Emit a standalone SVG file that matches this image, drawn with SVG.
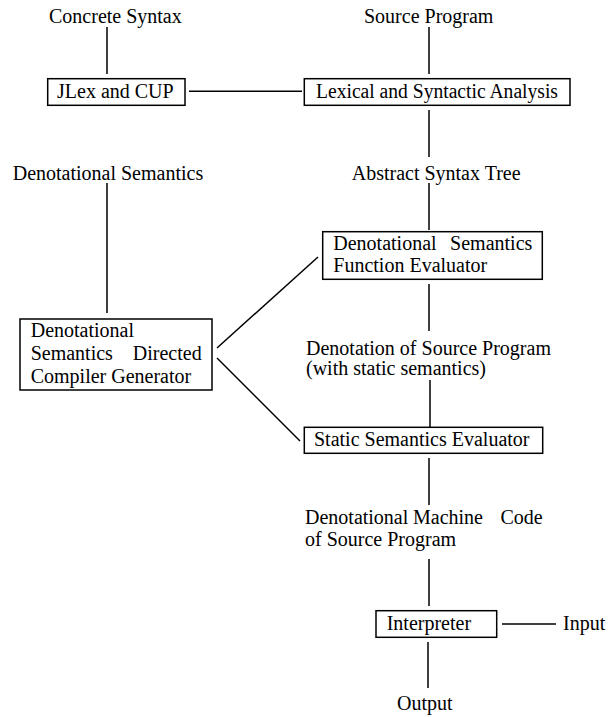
<svg xmlns="http://www.w3.org/2000/svg" width="609" height="717" viewBox="0 0 609 717">
<style>
text{font-family:"Liberation Serif","Times New Roman",serif;font-size:20px;fill:#000}
.box{fill:#fff;stroke:#000;stroke-width:1.5}
.ln{stroke:#000;stroke-width:1.5;fill:none}
</style>
<rect width="609" height="717" fill="#fff"/>
<g id="connectors">
<line class="ln" x1="107" y1="27" x2="107" y2="74"/>
<line class="ln" x1="429" y1="27" x2="429" y2="74"/>
<line class="ln" x1="189" y1="91.3" x2="302" y2="91.3"/>
<line class="ln" x1="429" y1="110" x2="429" y2="157"/>
<line class="ln" x1="107" y1="183" x2="107" y2="313"/>
<line class="ln" x1="429" y1="183" x2="429" y2="230"/>
<line class="ln" x1="217" y1="348" x2="318" y2="257"/>
<line class="ln" x1="217" y1="358" x2="300" y2="441"/>
<line class="ln" x1="429" y1="284" x2="429" y2="331"/>
<line class="ln" x1="430" y1="380" x2="430" y2="427"/>
<line class="ln" x1="429" y1="458" x2="429" y2="505"/>
<line class="ln" x1="429" y1="559" x2="429" y2="606"/>
<line class="ln" x1="502" y1="624" x2="556" y2="624"/>
<line class="ln" x1="428" y1="642" x2="428" y2="688"/>
</g>
<g id="concrete-syntax"><text x="49" y="23">Concrete Syntax</text></g>
<g id="source-program"><text x="364" y="23">Source Program</text></g>
<g id="jlex-cup">
<rect class="box" x="47.7" y="78.7" width="137.3" height="26.6"/>
<text x="57" y="98.3">JLex and CUP</text>
</g>
<g id="lexical">
<rect class="box" x="304.3" y="78.7" width="265.7" height="26.6"/>
<text x="316" y="98.3" textLength="242" lengthAdjust="spacingAndGlyphs">Lexical and Syntactic Analysis</text>
</g>
<g id="denotational-semantics"><text x="12.7" y="180">Denotational Semantics</text></g>
<g id="ast"><text x="351.7" y="180">Abstract Syntax Tree</text></g>
<g id="dsfe">
<rect class="box" x="322.7" y="231.7" width="219.6" height="47.6"/>
<text x="333.3" y="250">Denotational<tspan x="532.3" text-anchor="end">Semantics</tspan></text>
<text x="333.3" y="271.7">Function Evaluator</text>
</g>
<g id="dsdcg">
<rect class="box" x="20" y="319" width="192" height="71"/>
<text x="30.7" y="337.3">Denotational</text>
<text x="30.7" y="360">Semantics<tspan x="201.7" text-anchor="end">Directed</tspan></text>
<text x="30.7" y="382.7">Compiler Generator</text>
</g>
<g id="denotation">
<text x="306" y="355">Denotation of Source Program</text>
<text x="306" y="375">(with static semantics)</text>
</g>
<g id="sse">
<rect class="box" x="304.3" y="427.3" width="238.4" height="26"/>
<text x="314" y="446">Static Semantics Evaluator</text>
</g>
<g id="machine-code">
<text x="305" y="524">Denotational<tspan x="413">Machine</tspan><tspan x="542.7" text-anchor="end">Code</tspan></text>
<text x="305" y="546">of Source Program</text>
</g>
<g id="interpreter">
<rect class="box" x="376" y="610.7" width="120.7" height="26.6"/>
<text x="386.7" y="630">Interpreter</text>
</g>
<g id="input"><text x="563" y="630">Input</text></g>
<g id="output"><text x="397" y="710">Output</text></g>
</svg>
